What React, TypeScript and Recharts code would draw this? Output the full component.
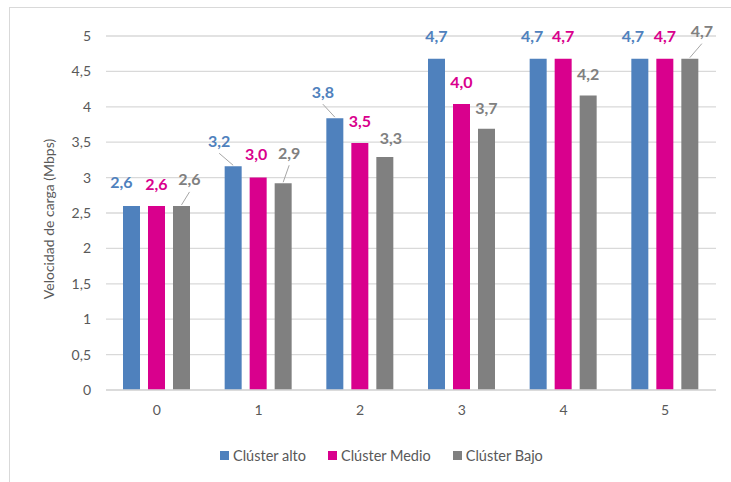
import { BarChart, Bar, XAxis, YAxis, CartesianGrid, LabelList } from 'recharts'

const categories = ['0', '1', '2', '3', '4', '5']
const altoValues = [2.6, 3.16, 3.84, 4.68, 4.68, 4.68]
const medioValues = [2.6, 3.0, 3.49, 4.04, 4.68, 4.68]
const bajoValues = [2.6, 2.92, 3.29, 3.69, 4.16, 4.68]
const yTicks = [0, 0.5, 1, 1.5, 2, 2.5, 3, 3.5, 4, 4.5, 5]

const seriesNames = ['Clúster alto', 'Clúster Medio', 'Clúster Bajo']
const seriesKeys = ['alto', 'medio', 'bajo']
const seriesColors = ['#4F81BD', '#D9008D', '#808080']

// label placement, as Excel had them dragged: [dx, dy] from the bar top centre
const labelShift: Record<string, number[][]> = {
  alto: [[-10, -24], [-14, -26], [-12, -27], [0, -23], [-6, -23], [-7, -23]],
  medio: [[0, -22], [-2, -24], [0, -22], [0, -22], [0, -23], [0, -23]],
  bajo: [[8, -27], [6, -31], [6, -20], [0, -21], [0, -22], [12, -28]],
}
const leaders: Record<string, boolean[]> = {
  alto: [false, true, true, false, false, false],
  medio: [false, false, false, false, false, false],
  bajo: [true, true, false, false, false, true],
}

const data = categories.map((c, i) => ({
  name: c,
  alto: altoValues[i],
  medio: medioValues[i],
  bajo: bajoValues[i],
}))

const FONT = 'Lato, "Open Sans", sans-serif'
const fmt = (v: number) => v.toFixed(1).replace('.', ',')

const makeLabel = (key: string, color: string) => (props: any) => {
  const { x, y, width, value, index } = props
  const cx = Number(x) + Number(width) / 2
  const top = Number(y)
  const [dx, dy] = labelShift[key][index]
  const lx = cx + dx
  const ly = top + dy
  return (
    <g key={`${key}-${index}`}>
      {leaders[key][index] && (
        <line x1={lx} y1={ly + 13} x2={cx} y2={top - 1} stroke="#A6A6A6" strokeWidth={1} />
      )}
      <text
        x={lx}
        y={ly}
        textAnchor="middle"
        dominantBaseline="central"
        fill={color}
        fontFamily={FONT}
        fontWeight={700}
        fontSize={16}
      >
        {fmt(Number(value))}
      </text>
    </g>
  )
}

const YTitle = () => (
  <text
    x={48}
    y={219}
    transform="rotate(-90, 48, 219)"
    textAnchor="middle"
    dominantBaseline="central"
    fill="#595959"
    fontFamily={FONT}
    fontSize={14}
  >
    Velocidad de carga (Mbps)
  </text>
)

export default function App() {
  return (
    <div style={{ position: 'relative', width: 731, height: 482, overflow: 'hidden', background: '#fff' }}>
      <style>{'body{margin:0;overflow:hidden}'}</style>
      <div
        style={{
          position: 'absolute',
          left: 9,
          top: 7,
          width: 800,
          height: 600,
          border: '1px solid #D9D9D9',
          boxSizing: 'border-box',
        }}
      />
      <div style={{ position: 'absolute', left: 0, top: 0 }}>
        <BarChart
          width={731}
          height={482}
          data={data}
          margin={{ top: 36, right: 15, left: 0, bottom: 0 }}
          barSize={17}
          barGap={8}
        >
          <CartesianGrid vertical={false} stroke="#D9D9D9" strokeWidth={1.3} />
          <XAxis
            dataKey="name"
            height={92}
            axisLine={{ stroke: '#D9D9D9', strokeWidth: 1.3 }}
            tickLine={false}
            tickSize={0}
            tickMargin={15}
            tick={{ fill: '#595959', fontSize: 14, fontFamily: FONT }}
          />
          <YAxis
            width={106}
            domain={[0, 5]}
            ticks={yTicks}
            interval={0}
            axisLine={false}
            tickLine={false}
            tickSize={0}
            tickMargin={15}
            tickFormatter={(v: number) => String(v).replace('.', ',')}
            tick={{ fill: '#595959', fontSize: 14, fontFamily: FONT }}
            label={{ content: () => <YTitle /> }}
          />
          {seriesKeys.map((k, i) => (
            <Bar key={k} dataKey={k} name={seriesNames[i]} fill={seriesColors[i]} isAnimationActive={false}>
              <LabelList dataKey={k} content={makeLabel(k, seriesColors[i])} />
            </Bar>
          ))}
        </BarChart>
      </div>
      <div
        style={{
          position: 'absolute',
          top: 447,
          left: 220,
          display: 'flex',
          alignItems: 'center',
          fontFamily: FONT,
          fontSize: 14.5,
          color: '#595959',
        }}
      >
        {seriesNames.map((n, i) => (
          <div key={n} style={{ display: 'flex', alignItems: 'center', marginRight: 22 }}>
            <span style={{ width: 9, height: 9, background: seriesColors[i], marginRight: 4, display: 'inline-block' }} />
            <span>{n}</span>
          </div>
        ))}
      </div>
    </div>
  )
}
